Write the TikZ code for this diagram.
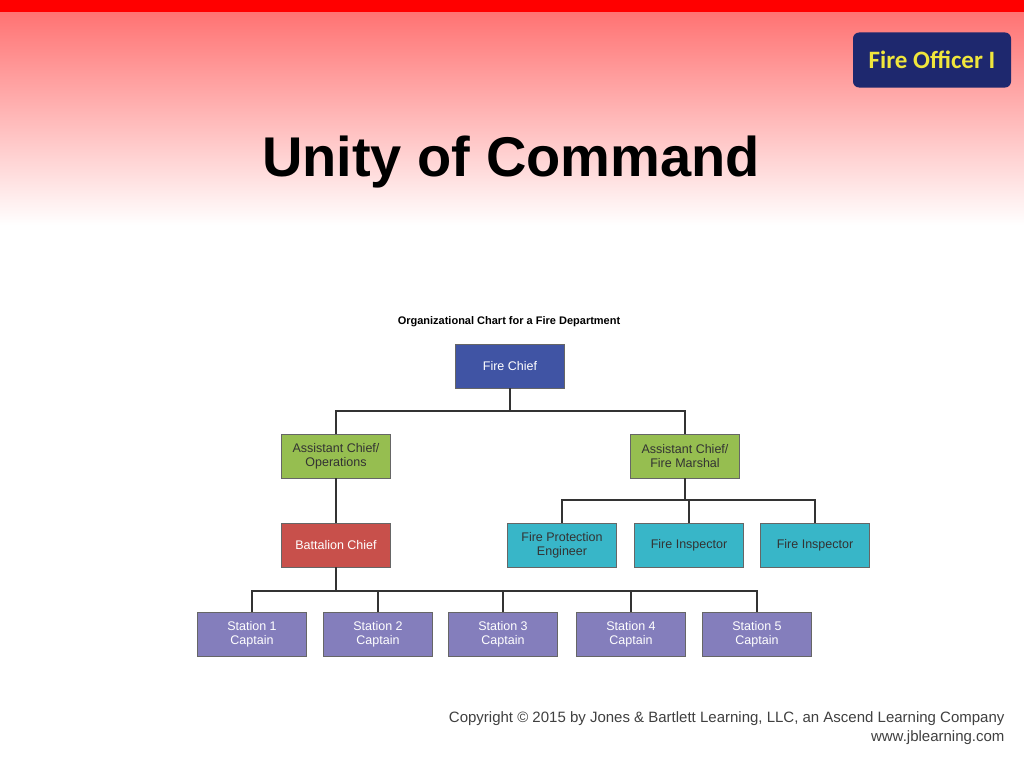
\documentclass[tikz,border=0pt]{standalone}
\usepackage{fontspec}
\setmainfont{Liberation Sans}
\newfontfamily\badgefont{Carlito}
\usetikzlibrary{positioning}

\definecolor{chiefblue}{RGB}{64,84,164}
\definecolor{acgreen}{RGB}{150,190,80}
\definecolor{bcred}{RGB}{200,80,75}
\definecolor{prevteal}{RGB}{56,182,200}
\definecolor{stpurple}{RGB}{132,126,188}
\definecolor{badgeblue}{RGB}{30,40,110}
\definecolor{badgeyellow}{RGB}{240,230,60}

\tikzset{
  box/.style={draw=black!60, line width=0.8pt, minimum width=109pt, minimum height=44pt,
    align=center, font=\fontsize{12.5}{14}\selectfont, text=white, inner sep=1pt},
  chief/.style={box, fill=chiefblue},
  asst/.style={box, fill=acgreen, text=black!80},
  batt/.style={box, fill=bcred},
  prev/.style={box, fill=prevteal, text=black!80},
  capt/.style={box, fill=stpurple},
  link/.style={draw=black!80, line width=1.1pt}
}

\begin{document}
\begin{tikzpicture}[x=1pt,y=-1pt]
\useasboundingbox (0,0) rectangle (1024,768);
% background
\fill[white] (0,0) rectangle (1024,768);
\shade[top color=red!55, bottom color=white] (0,12) rectangle (1024,225);
\fill[red] (0,0) rectangle (1024,12);

% badge
\node[fill=badgeblue, rounded corners=6pt, minimum width=158pt, minimum height=55pt,
  text=badgeyellow, font=\badgefont\bfseries\fontsize{25}{28}\selectfont] (badge) at (932,60) {Fire Officer I};

\node[font=\bfseries\fontsize{56}{64}\selectfont] (title) at (511,162) {Unity of Command};
\node[font=\bfseries\fontsize{11}{13}\selectfont] (charttitle) at (509,322) {Organizational Chart for a Fire Department};

% chart
\node[chief] (fc) at (510,366) {Fire Chief};
\node[asst] (aco) at (336,456) {Assistant Chief/\\Operations};
\node[asst] (acf) at (685,456) {Assistant Chief/\\Fire Marshal};
\node[batt] (bc) at (336,545) {Battalion Chief};
\node[prev] (fpe) at (562,545) {Fire Protection\\Engineer};
\node[prev] (fi1) at (689,545) {Fire Inspector};
\node[prev] (fi2) at (815,545) {Fire Inspector};
\foreach \n/\x in {1/252,2/378,3/503,4/631,5/757}
  \node[capt] (st\n) at (\x,634) {Station \n\\Captain};

\coordinate (busa) at (510,411);
\coordinate (busb) at (685,500);
\coordinate (busc) at (336,591);
\draw[link] (fc) -- (busa) (aco.north) |- (busa) -| (acf.north);
\draw[link] (aco) -- (bc);
\draw[link] (acf) -- (busb);
\foreach \n in {fpe,fi1,fi2}
  \draw[link] (busb) -| (\n.north);
\draw[link] (bc) -- (busc);
\foreach \n in {1,...,5}
  \draw[link] (busc) -| (st\n.north);

\node[anchor=north east, align=right, text=black!75, font=\fontsize{15}{19}\selectfont] (copy) at (1008,708)
  {Copyright \textcopyright{} 2015 by Jones \& Bartlett Learning, LLC, an Ascend Learning Company\\www.jblearning.com};
\end{tikzpicture}
\end{document}
